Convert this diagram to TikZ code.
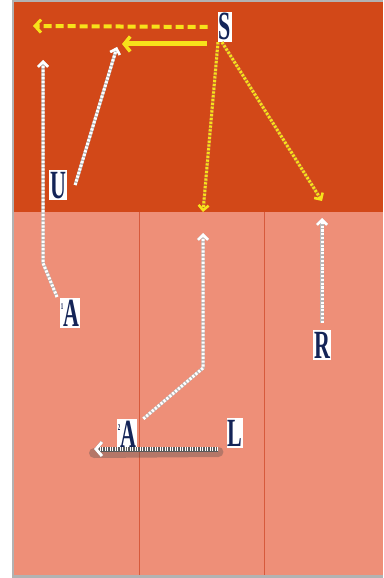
\documentclass[tikz,border=0pt]{standalone}
\usepackage{fontspec}
\setmainfont{Liberation Serif}
\newfontfamily\narrowserif[FakeStretch=0.55]{Liberation Serif}
\definecolor{topfill}{HTML}{D24818}
\definecolor{lowfill}{HTML}{EE8F78}
\definecolor{laneline}{HTML}{D65A3C}
\definecolor{signal}{HTML}{F7E21A}
\definecolor{inkblue}{HTML}{142457}
\usetikzlibrary{arrows.meta,positioning}

\begin{document}
\begin{tikzpicture}[
    x=1pt, y=-1pt,
    every node/.style={font=\narrowserif\bfseries\fontsize{40}{40}\selectfont, text=inkblue},
    letterbox/.style={fill=white, inner sep=1pt, text height=27pt, text depth=1pt},
    yellowdash/.style={draw=signal, line width=4pt, dash pattern=on 8pt off 4pt, -{Straight Barb[length=6pt,width=13pt,line width=3pt]}},
    yellowbar/.style={draw=signal, line width=5pt, -{Straight Barb[length=6pt,width=15pt,line width=3.5pt]}},
    yellowdots/.style={preaction={draw=brown!80!red, line width=3.4pt}, draw=signal, line width=3pt, dash pattern=on 2.2pt off 1.6pt, -{Straight Barb[length=5pt,width=10pt,line width=2.5pt]}},
    whitedots/.style={preaction={draw=gray!55, line width=3.2pt}, draw=white, line width=3pt, dash pattern=on 2.2pt off 1.6pt, -{Straight Barb[length=5pt,width=10pt,line width=2.5pt]}}
]
% Background panels
\useasboundingbox (0,0) rectangle (383,578);
\fill[gray!60] (12,0) rectangle (383,578);
\fill[topfill] (14,2) rectangle (383,212);
\fill[lowfill] (14,212) rectangle (383,575);
\draw[laneline, thin] (139,212) -- (139,575);
\draw[laneline, thin] (264,212) -- (264,575);

% Letters
\node (S) [letterbox] at (225,27) {S};
\node (U) [letterbox] at (58,185) {U};
\node (A1) [letterbox] at (70,313) {\raisebox{17pt}{\fontsize{9}{9}\selectfont 1}A};
\node (R) [letterbox] at (322,345) {R};
\node (A2) [letterbox] at (127,434) {\raisebox{17pt}{\fontsize{9}{9}\selectfont 2}A};
\node (L) [letterbox] at (235,433) {L};

% Free ends
\coordinate (sLeft) at (33,26);
\coordinate (sMid) at (122,44);
\coordinate (sDown) at (203,212);
\coordinate (sRight) at (322,201);
\coordinate (uTip) at (117,47);
\coordinate (a1Bend) at (43,263);
\coordinate (a1Tip) at (43,60);
\coordinate (a2Bend) at (203,368);
\coordinate (a2Tip) at (203,233);
\coordinate (rTip) at (322,218);
\coordinate (lTip) at (94,449);

% Arrows from S
\draw [yellowdash] ([xshift=-10pt]S.west) -- (sLeft);
\draw [yellowbar] ([xshift=-11pt,yshift=-17pt]S.west) -- (sMid);
\draw [yellowdots] ([xshift=-7pt]S.south) -- (sDown);
\draw [yellowdots] ([xshift=-3pt]S.south) -- (sRight);

% White arrows
\draw [whitedots] ([xshift=8pt]U.east) -- (uTip);
\draw [whitedots] ([xshift=-13pt,yshift=16pt]A1.center) -- (a1Bend) -- (a1Tip);
\draw [whitedots] ([xshift=6pt]A2.north east) -- (a2Bend) -- (a2Tip);
\draw [whitedots] ([yshift=7pt]R.north) -- (rTip);

% Long arrow from L (with shadow)
\draw [gray!60!black, opacity=0.35, line width=10pt, line cap=round] ([xshift=-8pt,yshift=-19pt]L.west) -- ([yshift=-4pt]lTip);
\draw [preaction={draw=gray!70!black, line width=5pt}, draw=white, line width=4.5pt, dash pattern=on 1.3pt off 1.2pt, -{Straight Barb[length=6pt,width=14pt,line width=3pt]}] ([xshift=-8pt,yshift=-16pt]L.west) -- (lTip);
\end{tikzpicture}
\end{document}
